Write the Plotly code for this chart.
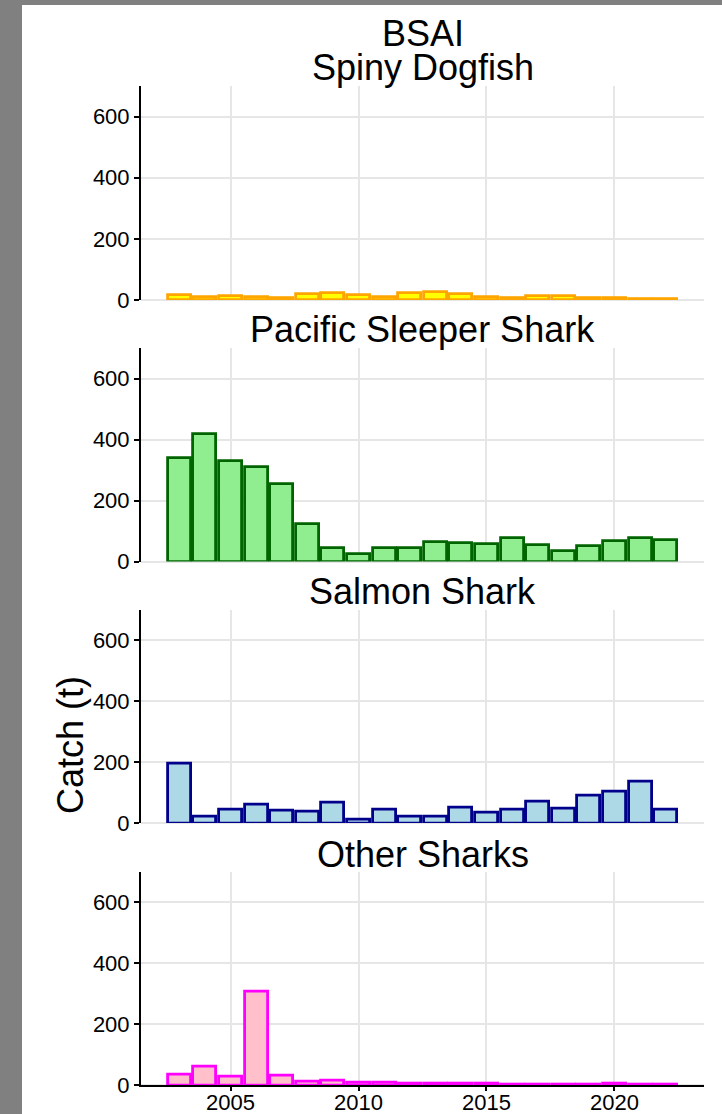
import plotly.graph_objects as go

# ---------------- data ----------------
years = list(range(2003, 2023))
spiny_dogfish = [15, 11, 13, 10, 5, 19, 22, 16, 11, 22, 25, 19, 10, 7, 13, 13, 7, 7, 4, 3]
pacific_sleeper_shark = [340, 419, 331, 309, 253, 124, 45, 25, 43, 45, 65, 60, 58, 78, 54, 36, 52, 67, 76, 69]
salmon_shark = [196, 20, 43, 60, 42, 39, 68, 11, 44, 22, 21, 50, 33, 44, 70, 48, 89, 102, 137, 44]
other_sharks = [36, 60, 28, 307, 30, 11, 14, 8, 7, 5, 4, 4, 6, 3, 3, 3, 3, 4, 3, 1]

series = [spiny_dogfish, pacific_sleeper_shark, salmon_shark, other_sharks]
panel_titles = ["Spiny Dogfish", "Pacific Sleeper Shark", "Salmon Shark", "Other Sharks"]
main_title = "BSAI"
y_title = "Catch (t)"
x_ticks = [2005, 2010, 2015, 2020]
y_ticks = [0, 200, 400, 600]

fills = ["#FFFF00", "#90EE90", "#ADD8E6", "#FFC0CB"]
outlines = ["#FFA500", "#006400", "#00008B", "#FF00FF"]

# ---------------- geometry (pixels) ----------------
W, H = 722, 1114
L, R = 141, 704
T, B = 86, 1085
panels_px = [(86, 300), (348, 561.5), (609.5, 823), (871.5, 1085)]


def px2x(px):
    return (px - L) / (R - L)


def px2y(py):
    return (B - py) / (B - T)


FONT = "Liberation Sans, Arial, sans-serif"
GRID = "#E6E6E6"
TICK_SIZE = 22
TITLE_SIZE = 36

fig = go.Figure()
layout = dict(
    width=W, height=H,
    margin=dict(l=L, r=W - R, t=T, b=H - B, pad=0, autoexpand=False),
    paper_bgcolor="white", plot_bgcolor="white",
    showlegend=False,
    font=dict(family=FONT, color="black", size=TICK_SIZE),
    bargap=0,
)

for i, (vals, fc, lc) in enumerate(zip(series, fills, outlines)):
    n = i + 1
    xa = "x" if n == 1 else f"x{n}"
    ya = "y" if n == 1 else f"y{n}"
    fig.add_trace(go.Bar(
        x=years, y=vals, width=0.9,
        marker=dict(color=fc, line=dict(color=lc, width=2.8)),
        xaxis=xa, yaxis=ya, hoverinfo="skip",
    ))
    top, bot = panels_px[i]
    last = (n == 4)
    layout[f"xaxis{'' if n == 1 else n}"] = dict(
        domain=[0, 1], anchor=ya, range=[2001.5, 2023.5], automargin=False,
        tickvals=x_ticks, showticklabels=last,
        showgrid=True, gridcolor=GRID, gridwidth=1.6, zeroline=False,
        showline=last, linecolor="black", linewidth=2,
        ticks="outside" if last else "", ticklen=4, tickwidth=1.5, tickcolor="black",
        ticklabelstandoff=-7,
        tickfont=dict(size=TICK_SIZE, color="black"), fixedrange=True,
    )
    layout[f"yaxis{'' if n == 1 else n}"] = dict(
        domain=[px2y(bot), px2y(top)], anchor=xa, range=[0, 700], automargin=False,
        tickvals=y_ticks, showgrid=True, gridcolor=GRID, gridwidth=1.6,
        zeroline=True, zerolinecolor=GRID, zerolinewidth=1.6,
        showline=True, linecolor="black", linewidth=2,
        ticks="outside", ticklen=5, tickwidth=1.5, tickcolor="black",
        tickfont=dict(size=TICK_SIZE, color="black"), fixedrange=True,
    )

annotations = []
title_centers = [67.5, 329.5, 591.5, 854.5]
annotations.append(dict(text=main_title, x=0.5, y=px2y(33.5), xref="paper", yref="paper",
                        xanchor="center", yanchor="middle", showarrow=False, borderpad=0,
                        font=dict(size=TITLE_SIZE, family=FONT, color="black")))
for t, cy in zip(panel_titles, title_centers):
    annotations.append(dict(text=t, x=0.5, y=px2y(cy), xref="paper", yref="paper",
                            xanchor="center", yanchor="middle", showarrow=False, borderpad=0,
                            font=dict(size=TITLE_SIZE, family=FONT, color="black")))
annotations.append(dict(text=y_title, x=px2x(70), y=px2y(745), xref="paper", yref="paper",
                        xanchor="center", yanchor="middle", showarrow=False, textangle=-90,
                        font=dict(size=TITLE_SIZE, family=FONT, color="black")))
layout["annotations"] = annotations

layout["shapes"] = [
    dict(type="rect", xref="paper", yref="paper", x0=px2x(0), x1=px2x(22), y0=px2y(H), y1=px2y(0),
         fillcolor="#808080", line=dict(width=0), layer="above"),
    dict(type="rect", xref="paper", yref="paper", x0=px2x(0), x1=px2x(W), y0=px2y(5), y1=px2y(0),
         fillcolor="#808080", line=dict(width=0), layer="above"),
]

fig.update_layout(**layout)
fig.write_html(
    "out.html",
    config={"displayModeBar": False, "responsive": False},
    post_script=(
        "document.documentElement.style.margin='0px';"
        "document.documentElement.style.overflow='hidden';"
        "document.body.style.margin='0px';"
        "document.body.style.padding='0px';"
        "document.body.style.overflow='hidden';"
    ),
)
